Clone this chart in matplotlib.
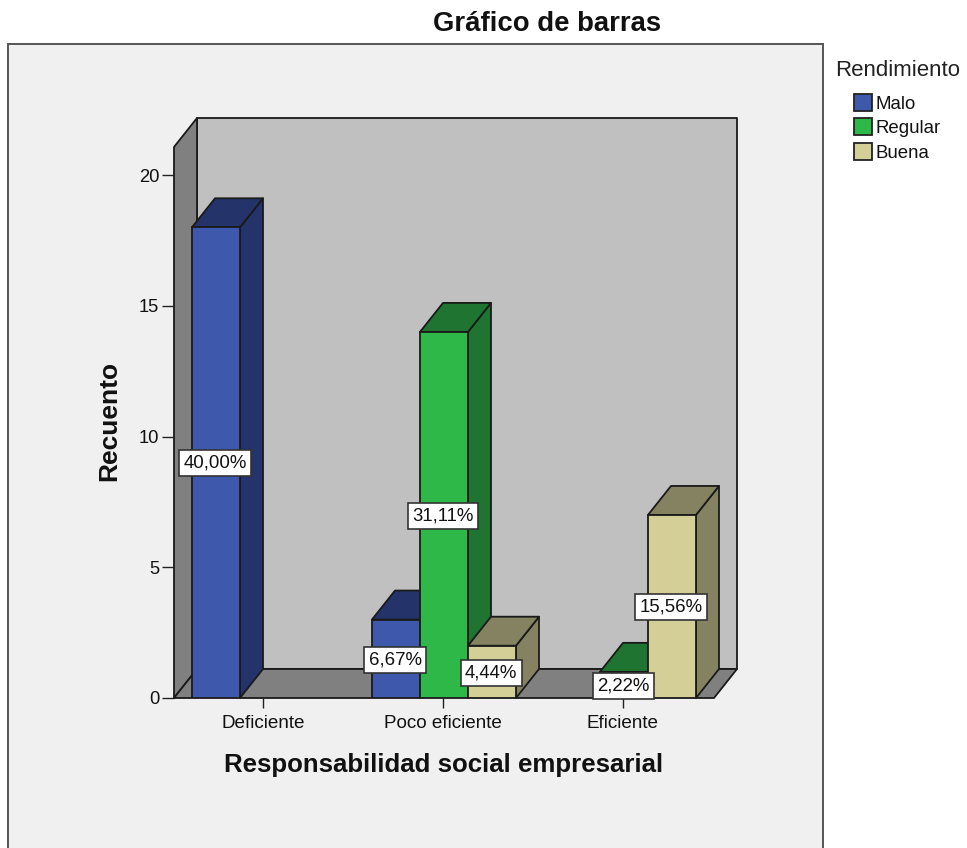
import matplotlib
matplotlib.use("Agg")
import matplotlib.pyplot as plt
from matplotlib.patches import Patch, Rectangle

plt.rcParams['font.family'] = ['Liberation Sans', 'DejaVu Sans']

categories = ["Deficiente", "Poco eficiente", "Eficiente"]
series_names = ["Malo", "Regular", "Buena"]
malo = [18, 3, 0]
regular = [0, 14, 1]
buena = [0, 2, 7]
pct_malo = ["40,00%", "6,67%", ""]
pct_regular = ["", "31,11%", "2,22%"]
pct_buena = ["", "4,44%", "15,56%"]
y_ticks = [0, 5, 10, 15, 20]

W, H = 967, 848
front = {"Malo": "#3E58AC", "Regular": "#2EB848", "Buena": "#D4CF96"}
dark = {"Malo": "#24336A", "Regular": "#1E7430", "Buena": "#858262"}
EDGE = "#1A1A1A"
LW = 1.3

fig = plt.figure(figsize=(W / 100, H / 100), dpi=100, facecolor="white")
fig.add_artist(Rectangle((8 / W, -0.01), 815 / W, 1.01 - 44 / H, transform=fig.transFigure,
                         facecolor="#F0F0F0", edgecolor="#555555", linewidth=1.4, zorder=-5))

ax = fig.add_axes([174 / W, 1 - 698 / H, 540 / W, 551 / H])
ax.patch.set_alpha(0)
ax.set_xlim(-0.5, 2.5)
PX_PER_UNIT = 26.15
ax.set_ylim(0, 551 / PX_PER_UNIT)
for s in ax.spines.values():
    s.set_visible(False)

dx = 23 / 180
dy = 29 / PX_PER_UNIT
x0, x1 = ax.get_xlim()
y0, y1 = ax.get_ylim()

def face(xs, ys, color, z):
    ax.fill(xs, ys, facecolor=color, edgecolor=EDGE, linewidth=LW, clip_on=False,
            zorder=z, joinstyle="round")

# Box walls
face([x0 + dx, x1 + dx, x1 + dx, x0 + dx], [y0 + dy, y0 + dy, y1 + dy, y1 + dy], "#C0C0C0", 1)
face([x0, x0 + dx, x0 + dx, x0], [y0, y0 + dy, y1 + dy, y1], "#808080", 2)
face([x0, x0 + dx, x1 + dx, x1], [y0, y0 + dy, y0 + dy, y0], "#808080", 2)

bw = 48 / 180
series = [("Malo", malo, pct_malo, -bw), ("Regular", regular, pct_regular, 0), ("Buena", buena, pct_buena, bw)]
z = 3
labels = []
for i in range(len(categories)):
    for name, vals, pcts, off in series:
        v = vals[i]
        if v == 0:
            continue
        c = i + off
        l, r = c - bw / 2, c + bw / 2
        face([r, r + dx, r + dx, r], [0, dy, v + dy, v], dark[name], z)
        face([l, r, r + dx, l + dx], [v, v, v + dy, v + dy], dark[name], z)
        ax.bar(c, v, width=bw, color=front[name], edgecolor=EDGE, linewidth=LW, zorder=z + 0.5)
        z += 1
        labels.append((c, v / 2, pcts[i]))

for c, y, t in labels:
    ax.text(c - 0.004, y - 0.03, t, ha="center", va="center", fontsize=13.4, color="#111111", zorder=50, clip_on=False,
            bbox=dict(boxstyle="square,pad=0.24", facecolor="white", edgecolor="#333333", linewidth=1.2))

ax.set_xticks([i - 0.006 for i in range(len(categories))], categories)
ax.set_yticks(y_ticks)
ax.tick_params(axis="x", length=7.5, width=1, color="#222222", labelsize=13.6, pad=4.5, labelcolor="#111111")
ax.tick_params(axis="y", length=8.6, width=1, color="#222222", labelsize=13.2, pad=2, labelcolor="#111111")

ax.set_xlabel("Responsabilidad social empresarial", fontsize=18.6, fontweight="bold", color="#111111")
ax.xaxis.set_label_coords(0.5, -(765 - 698) / 551, transform=ax.transAxes)
ax.xaxis.label.set_verticalalignment("center")
ax.set_ylabel("Recuento", fontsize=19, fontweight="bold", color="#111111", rotation=90)
ax.yaxis.set_label_coords((109 - 174) / 540, (698 - 421) / 551, transform=ax.transAxes)
ax.yaxis.label.set_verticalalignment("center")

fig.text(547 / W, 1 - 24 / H, "Gráfico de barras", ha="center", va="center",
         fontsize=19.8, fontweight="bold", color="#111111")

handles = [Patch(facecolor=front[n], edgecolor="#222222", linewidth=1.3) for n in series_names]
leg = fig.legend(handles, series_names, loc="upper left", bbox_to_anchor=(854 / W, 1 - 94 / H),
                 frameon=False, fontsize=13.4, handlelength=0.97, handleheight=1.02,
                 handletextpad=0.16, labelspacing=0.3, borderpad=0, borderaxespad=0)
for t in leg.get_texts():
    t.set_color("#111111")
fig.text(835 / W, 1 - 70 / H, "Rendimiento", ha="left", va="center", fontsize=16, color="#222222")

fig.savefig("out.png", dpi=100)
